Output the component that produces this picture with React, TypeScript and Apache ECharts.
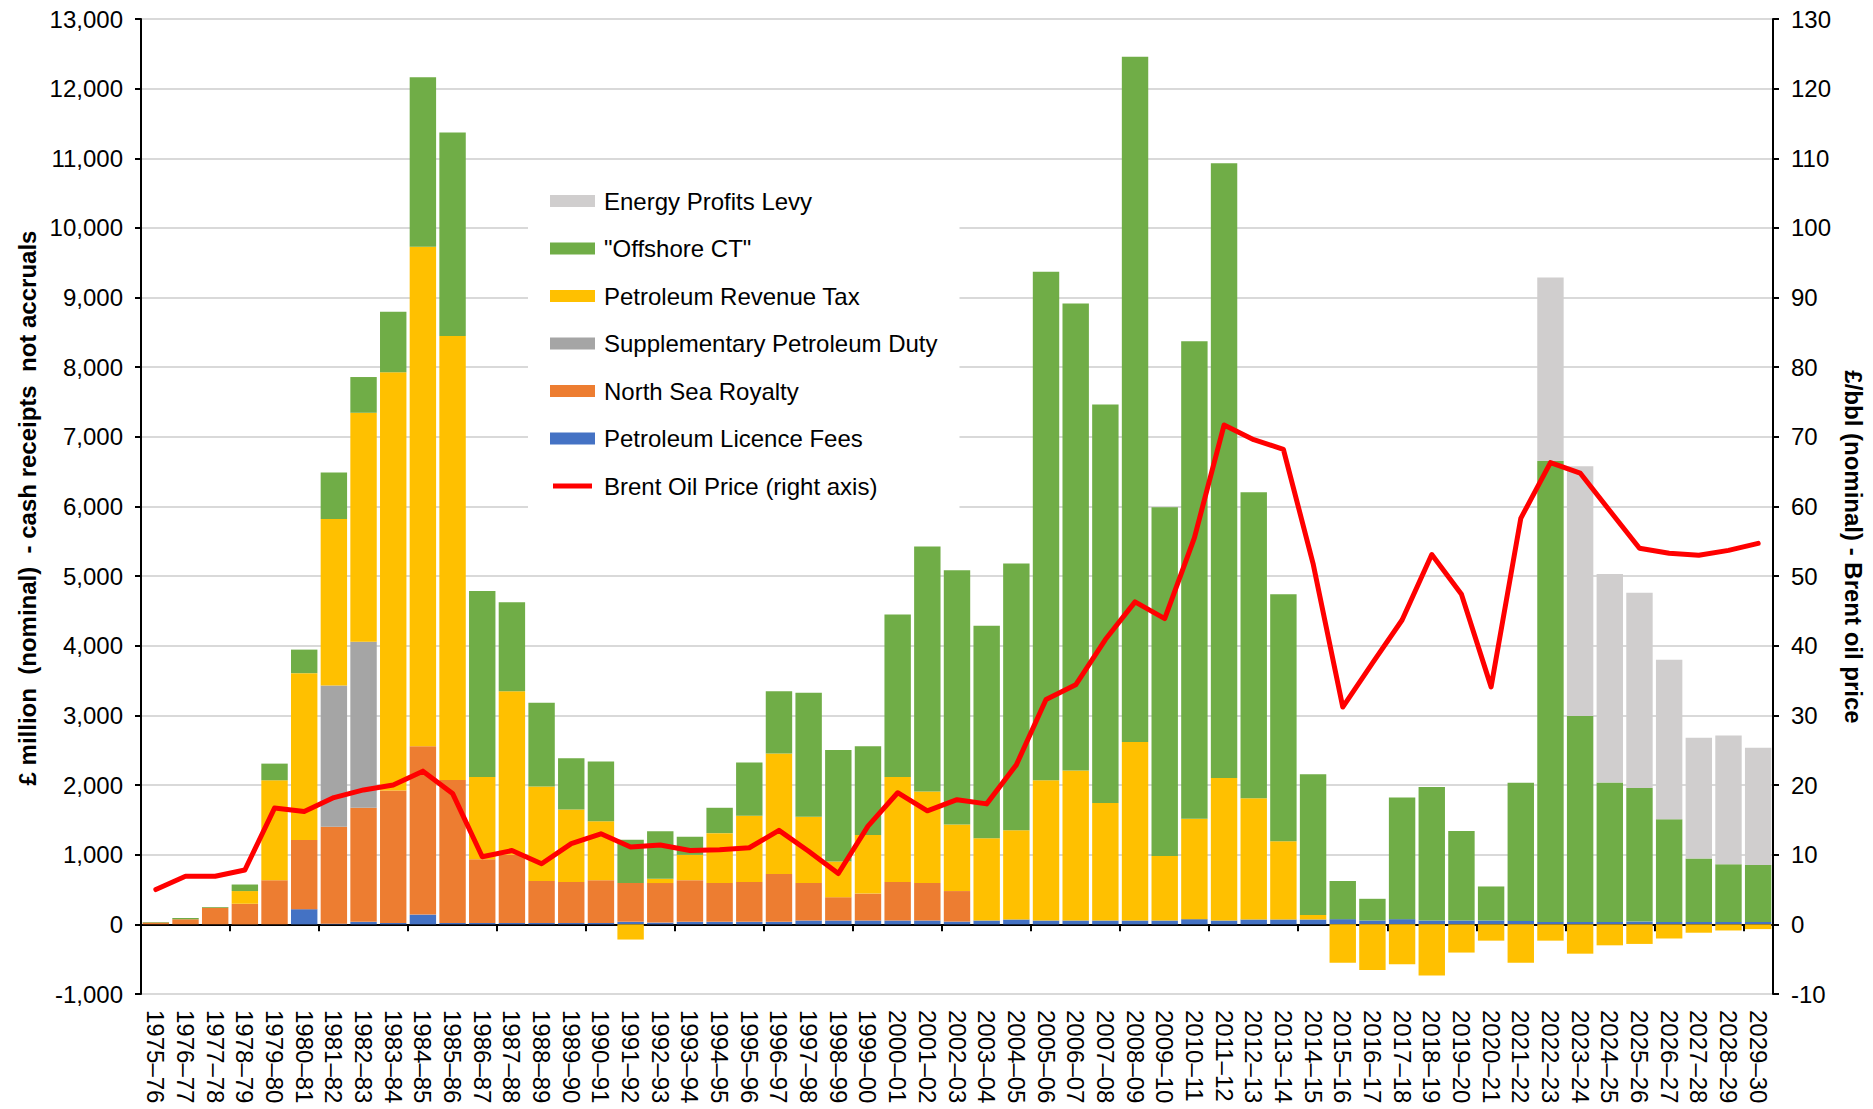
import React, { useEffect, useRef } from "react";
import * as echarts from "echarts";

const categories = [
  "1975–76","1976–77","1977–78","1978–79","1979–80","1980–81","1981–82","1982–83","1983–84","1984–85",
  "1985–86","1986–87","1987–88","1988–89","1989–90","1990–91","1991–92","1992–93","1993–94","1994–95",
  "1995–96","1996–97","1997–98","1998–99","1999–00","2000–01","2001–02","2002–03","2003–04","2004–05",
  "2005–06","2006–07","2007–08","2008–09","2009–10","2010–11","2011–12","2012–13","2013–14","2014–15",
  "2015–16","2016–17","2017–18","2018–19","2019–20","2020–21","2021–22","2022–23","2023–24","2024–25",
  "2025–26","2026–27","2027–28","2028–29","2029–30",
];

const licenceFees = [
  0,0,0,0,0,218,10,36,20,140,
  20,20,20,20,20,20,36,25,36,36,
  36,36,55,55,55,55,55,40,55,70,
  55,55,55,55,55,75,55,70,70,70,
  75,55,75,55,55,55,50,35,35,35,
  40,35,35,35,35,
];

const northSeaRoyalty = [
  25,75,240,296,634,993,1393,1638,1903,2417,
  2054,915,980,604,588,614,557,568,598,557,
  572,686,538,335,387,553,538,438,0,0,
  0,0,0,0,0,0,0,0,0,0,
  0,0,0,0,0,0,0,0,0,0,
  0,0,0,0,0,
];

const supplementaryDuty = [
  0,0,0,0,0,0,2027,2385,0,0,
  0,0,0,0,0,0,0,0,0,0,
  0,0,0,0,0,0,0,0,0,0,
  0,0,0,0,0,0,0,0,0,0,
  0,0,0,0,0,0,0,0,0,0,
  0,0,0,0,0,
];

const petroleumRevenueTax = [
  0,0,0,182,1435,2396,2389,3287,6003,7173,
  6374,1180,2347,1356,1040,847,-218,62,364,717,
  951,1731,951,514,842,1507,1314,957,1182,1281,
  2014,2154,1686,2565,927,1443,2045,1739,1125,65,
  -551,-655,-572,-733,-405,-234,-551,-234,-421,-301,
  -281,-203,-120,-88,-68,
];

const offshoreCT = [
  10,15,10,94,239,338,671,513,871,2435,
  2922,2672,1279,1201,738,858,623,681,260,364,
  764,894,1782,1601,1273,2334,3519,3648,3051,3831,
  7302,6706,5723,9837,5006,6854,8829,4395,3545,2022,
  546,312,1746,1918,1284,489,1985,6619,2958,2001,
  1918,1476,910,827,816,
];

const energyProfitsLevy = [
  0,0,0,0,0,0,0,0,0,0,
  0,0,0,0,0,0,0,0,0,0,
  0,0,0,0,0,0,0,0,0,0,
  0,0,0,0,0,0,0,0,0,0,
  0,0,0,0,0,0,0,2634,3584,2994,
  2802,2287,1736,1850,1684,
];

const brentPrice = [
  5.0,6.9,6.9,7.8,16.7,16.2,18.2,19.3,20.0,22.0,
  18.8,9.7,10.6,8.7,11.6,13.0,11.1,11.4,10.6,10.7,
  11.0,13.5,10.5,7.3,14.1,18.9,16.3,17.9,17.3,22.9,
  32.3,34.4,40.9,46.3,43.9,55.5,71.7,69.6,68.2,51.8,
  31.2,37.5,43.7,53.1,47.4,34.1,58.3,66.3,64.8,59.4,
  54.0,53.3,53.0,53.7,54.7,
];

const leftTitle = "£ million  (nominal)  - cash receipts  not accruals";
const rightTitle = "£/bbl (nominal) - Brent oil price";

const FONT = "'Liberation Sans', Arial, sans-serif";

const fmt = (v: number) => {
  const s = Math.abs(v).toString().replace(/\B(?=(\d{3})+(?!\d))/g, ",");
  return v < 0 ? "-" + s : s;
};

export default function App() {
  const ref = useRef<HTMLDivElement>(null);
  useEffect(() => {
    document.body.style.margin = "0";
    if (!ref.current) return;
    const chart = echarts.init(ref.current, undefined, { renderer: "svg" });

    const barSeries = (name: string, data: number[], color: string) => ({
      name,
      type: "bar",
      stack: "total",
      data,
      xAxisIndex: 0,
      yAxisIndex: 0,
      barCategoryGap: "11%",
      itemStyle: { color },
      emphasis: { disabled: true },
    });

    chart.setOption({
      animation: false,
      backgroundColor: "#fff",
      textStyle: { fontFamily: FONT },
      grid: { left: 141, right: 100, top: 19, bottom: 115, containLabel: false },
      legend: {
        orient: "vertical",
        left: 528,
        top: 165,
        backgroundColor: "#fff",
        padding: [24, 22, 24, 22],
        itemWidth: 45,
        itemHeight: 12,
        itemGap: 23.5,
        textStyle: { fontSize: 24, color: "#000", fontFamily: FONT, padding: [0, 0, 0, 4] },
        data: [
          { name: "Energy Profits Levy", icon: "rect" },
          { name: '"Offshore CT"', icon: "rect" },
          { name: "Petroleum Revenue Tax", icon: "rect" },
          { name: "Supplementary Petroleum Duty", icon: "rect" },
          { name: "North Sea Royalty", icon: "rect" },
          { name: "Petroleum Licence Fees", icon: "rect" },
          {
            name: "Brent Oil Price (right axis)",
            icon: "path://M0,0 M45,12 M3,3.5 L42,3.5 L42,8.5 L3,8.5 Z",
          },
        ],
      },
      graphic: [
        {
          type: "text",
          x: 27,
          y: 508,
          rotation: Math.PI / 2,
          style: {
            text: leftTitle,
            font: "bold 24px " + FONT,
            fill: "#000",
            align: "center",
            verticalAlign: "middle",
          },
        },
        {
          type: "text",
          x: 1853,
          y: 547,
          rotation: -Math.PI / 2,
          style: {
            text: rightTitle,
            font: "bold 24px " + FONT,
            fill: "#000",
            align: "center",
            verticalAlign: "middle",
          },
        },
      ],
      xAxis: [
        {
          type: "category",
          data: categories,
          position: "bottom",
          axisLine: { show: false, onZero: false },
          axisTick: { show: false },
          axisLabel: {
            rotate: -90,
            interval: 0,
            fontSize: 24,
            color: "#000",
            fontFamily: FONT,
            margin: 16,
          },
          splitLine: { show: false },
        },
        {
          type: "category",
          data: categories,
          position: "bottom",
          axisLine: { show: true, onZero: true, lineStyle: { color: "#000", width: 2 } },
          axisTick: { show: true, length: 7, lineStyle: { color: "#000", width: 2 } },
          axisLabel: { show: false },
          splitLine: { show: false },
        },
      ],
      yAxis: [
        {
          type: "value",
          min: -1000,
          max: 13000,
          interval: 1000,
          position: "left",
          axisLine: { show: true, lineStyle: { color: "#000", width: 2 } },
          axisTick: { show: true, length: 6, lineStyle: { color: "#000", width: 2 } },
          axisLabel: { fontSize: 24, color: "#000", fontFamily: FONT, margin: 18, formatter: fmt },
          splitLine: { show: true, lineStyle: { color: "#d9d9d9", width: 2 } },
        },
        {
          type: "value",
          min: -10,
          max: 130,
          interval: 10,
          position: "right",
          axisLine: { show: true, lineStyle: { color: "#000", width: 2 } },
          axisTick: { show: true, length: 6, lineStyle: { color: "#000", width: 2 } },
          axisLabel: { fontSize: 24, color: "#000", fontFamily: FONT, margin: 18 },
          splitLine: { show: false },
        },
      ],
      series: [
        barSeries("Petroleum Licence Fees", licenceFees, "#4472c4"),
        barSeries("North Sea Royalty", northSeaRoyalty, "#ed7d31"),
        barSeries("Supplementary Petroleum Duty", supplementaryDuty, "#a5a5a5"),
        barSeries("Petroleum Revenue Tax", petroleumRevenueTax, "#ffc000"),
        barSeries('"Offshore CT"', offshoreCT, "#70ad47"),
        barSeries("Energy Profits Levy", energyProfitsLevy, "#d0cece"),
        {
          name: "Brent Oil Price (right axis)",
          type: "line",
          data: brentPrice,
          xAxisIndex: 0,
          yAxisIndex: 1,
          showSymbol: false,
          symbol: "none",
          z: 5,
          itemStyle: { color: "#ff0000" },
          lineStyle: { color: "#ff0000", width: 5, cap: "round", join: "round" },
          emphasis: { disabled: true },
        },
      ],
    });
    return () => chart.dispose();
  }, []);
  return <div ref={ref} style={{ width: 1873, height: 1109 }} />;
}
